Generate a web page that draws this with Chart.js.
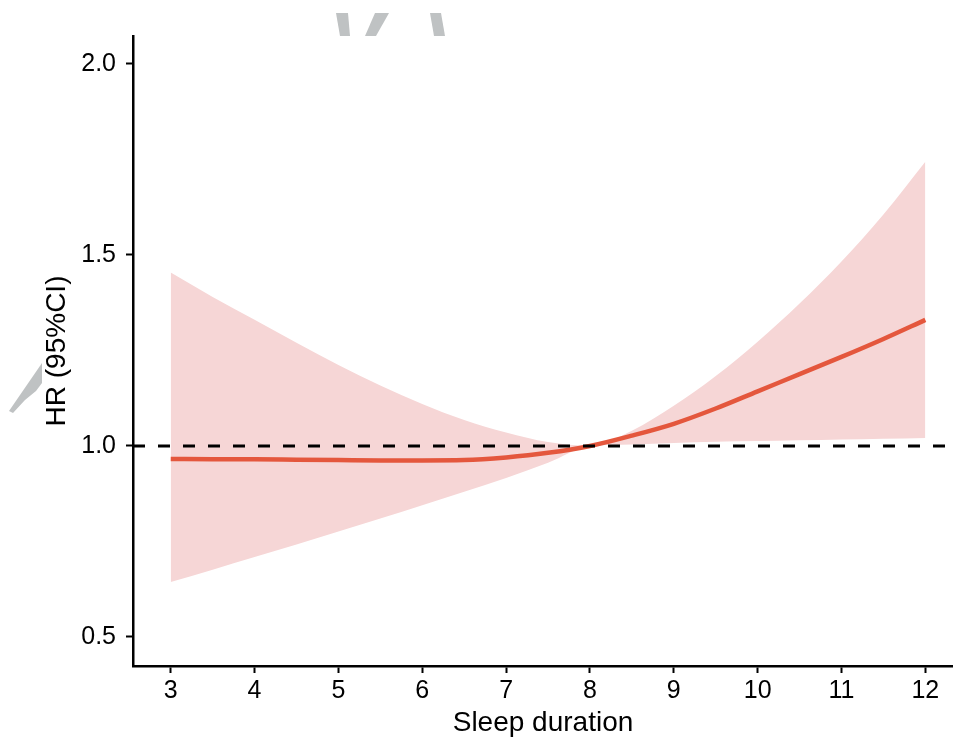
<!DOCTYPE html>
<html>
<head>
<meta charset="utf-8">
<script src="https://cdn.jsdelivr.net/npm/chart.js@4"></script>
<style>
  html, body { margin: 0; padding: 0; background: #fff; }
  #wrap { width: 953px; height: 744px; }
</style>
</head>
<body>
<div id="wrap"><canvas id="hrChart" width="953" height="744"></canvas></div>
<script>
// values
const sleepHours = [3, 3.5, 4, 4.5, 5, 5.5, 6, 6.5, 7, 7.5, 8, 8.5, 9, 9.5, 10, 10.5, 11, 11.5, 12];
const hrValues   = [0.966, 0.965, 0.965, 0.964, 0.963, 0.962, 0.962, 0.963, 0.970, 0.982, 1.0, 1.027, 1.058, 1.098, 1.143, 1.188, 1.233, 1.280, 1.330];
const upperCI    = [1.454, 1.390, 1.330, 1.270, 1.212, 1.158, 1.110, 1.068, 1.035, 1.010, 1.0, 1.040, 1.105, 1.183, 1.273, 1.373, 1.483, 1.606, 1.744];
const lowerCI    = [0.644, 0.676, 0.709, 0.742, 0.776, 0.810, 0.845, 0.880, 0.916, 0.956, 1.0, 1.004, 1.008, 1.011, 1.013, 1.015, 1.017, 1.019, 1.021];
const xTicks = [3, 4, 5, 6, 7, 8, 9, 10, 11, 12];
const yTicks = [0.5, 1.0, 1.5, 2.0];
const refValue = 1.0;

const X_MIN = 2.55, X_MAX = 12.33;
const Y_MIN = 0.424, Y_MAX = 2.073;

const toPoints = vals => sleepHours.map((h, i) => ({ x: h, y: vals[i] }));
const family = '"Liberation Sans", Arial, Helvetica, sans-serif';
const tickFont = { family, size: 25 };
const titleFont = { family, size: 28 };

// leftover grey fragments visible at the edges of the reference crop
const fragments = {
  id: 'fragments',
  afterDraw(chart) {
    const ctx = chart.ctx;
    ctx.save();
    ctx.fillStyle = '#bfc2c3';
    const polys = [
      [[336, 13], [348, 13], [350, 36], [340, 36]],
      [[375, 13], [389, 13], [376, 36], [365, 36]],
      [[430, 13], [441, 13], [445, 36], [434, 36]],
      [[42, 363], [42, 383], [36, 391], [25, 400], [13, 413], [9, 411]]
    ];
    polys.forEach(p => {
      ctx.beginPath();
      ctx.moveTo(p[0][0], p[0][1]);
      p.slice(1).forEach(pt => ctx.lineTo(pt[0], pt[1]));
      ctx.closePath();
      ctx.fill();
    });
    ctx.restore();
  }
};

new Chart(document.getElementById('hrChart'), {
  type: 'line',
  data: {
    datasets: [
      {
        label: 'upper',
        data: toPoints(upperCI),
        borderWidth: 0,
        pointRadius: 0,
        backgroundColor: '#f6d6d6',
        fill: '+1',
        cubicInterpolationMode: 'monotone',
        order: 3
      },
      {
        label: 'lower',
        data: toPoints(lowerCI),
        borderWidth: 0,
        pointRadius: 0,
        backgroundColor: '#f6d6d6',
        fill: false,
        cubicInterpolationMode: 'monotone',
        order: 3
      },
      {
        label: 'HR',
        data: toPoints(hrValues),
        borderColor: '#e4573d',
        borderWidth: 4.5,
        pointRadius: 0,
        fill: false,
        cubicInterpolationMode: 'monotone',
        order: 2
      },
      {
        label: 'ref',
        data: [{ x: X_MIN, y: refValue }, { x: X_MAX, y: refValue }],
        borderColor: '#000',
        borderWidth: 3,
        borderDash: [12, 13],
        pointRadius: 0,
        fill: false,
        order: 1
      }
    ]
  },
  options: {
    responsive: false,
    animation: false,
    layout: { padding: { top: 36, right: 0, bottom: 0, left: 0 } },
    plugins: {
      legend: { display: false },
      tooltip: { enabled: false }
    },
    scales: {
      x: {
        type: 'linear',
        min: X_MIN,
        max: X_MAX,
        afterBuildTicks: s => { s.ticks = xTicks.map(v => ({ value: v })); },
        afterFit: s => { s.height = 78; },
        ticks: { color: '#000', font: tickFont, padding: 3, maxRotation: 0 },
        grid: { drawOnChartArea: false, drawTicks: true, tickLength: 7, tickColor: '#000', tickWidth: 2 },
        border: { color: '#000', width: 2.5 },
        title: { display: true, text: 'Sleep duration', color: '#000', font: titleFont, padding: { top: 0, bottom: 4 } }
      },
      y: {
        type: 'linear',
        min: Y_MIN,
        max: Y_MAX,
        afterBuildTicks: s => { s.ticks = yTicks.map(v => ({ value: v })); },
        afterFit: s => { s.width = 133; },
        ticks: { color: '#000', font: tickFont, padding: 10, callback: v => Number(v).toFixed(1) },
        grid: { drawOnChartArea: false, drawTicks: true, tickLength: 7, tickColor: '#000', tickWidth: 2 },
        border: { color: '#000', width: 2.5 },
        title: { display: true, text: 'HR (95%CI)', color: '#000', font: titleFont, padding: { top: 40, bottom: 0 } }
      }
    }
  },
  plugins: [fragments]
});
</script>
</body>
</html>
